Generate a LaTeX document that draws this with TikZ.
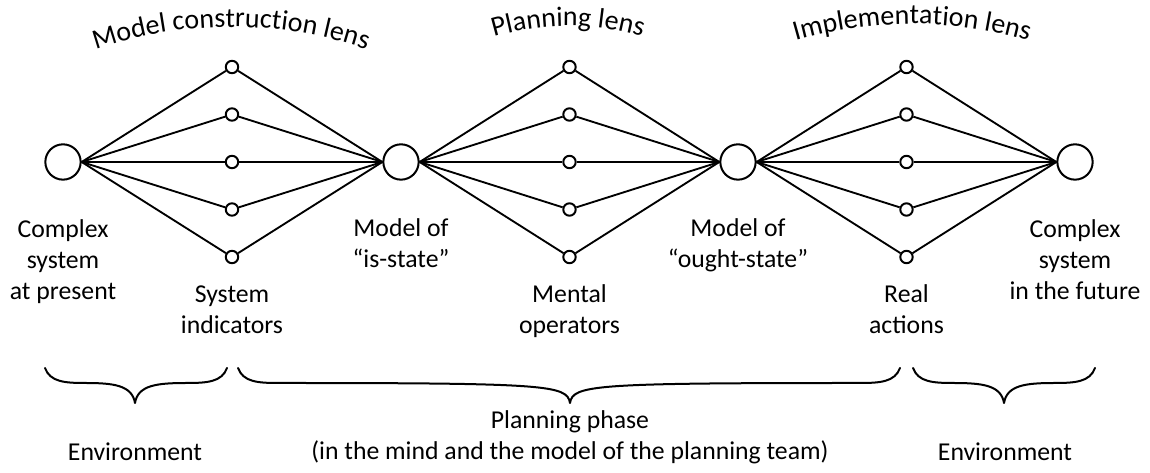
\documentclass[tikz,border=0pt]{standalone}
\usepackage{fontspec}
\setmainfont{Carlito}
\usetikzlibrary{decorations.text}
\newcommand\lblfont{\fontsize{19.3}{23.6}\selectfont}
\newcommand\lensfont{\fontsize{21}{24}\selectfont}
\newcommand\drawbrace[3]{%
  \draw[bracestyle] (#1,105) .. controls ({#1+5},91) and ({#1+20},90) .. ({#1+40},90)
    .. controls ({#2-22},90) and ({#2-3},88) .. (#2,70)
    .. controls ({#2+3},88) and ({#2+22},90) .. ({#3-40},90)
    .. controls ({#3-20},90) and ({#3-5},91) .. (#3,105);}
\begin{document}
\begin{tikzpicture}[x=0.75pt,y=0.75pt,
  big/.style={circle,draw,line width=1.5pt,minimum size=26.5pt,inner sep=0pt},
  small/.style={circle,draw,line width=1.5pt,minimum size=9.3pt,inner sep=0pt},
  conn/.style={line width=1.4pt},
  lbl/.style={font=\lblfont,align=center,anchor=base,inner sep=0pt},
  bracestyle/.style={line width=1.5pt,line cap=round,line join=round},
  lens/.style={decorate,decoration={text along path,text align=center,text={|\lensfont|#1}}}]
\useasboundingbox (0,0) rectangle (1150,473);

% big circles
\node[big] (B1) at (63,311) {};
\node[big] (B2) at (401,311) {};
\node[big] (B3) at (738,311) {};
\node[big] (B4) at (1075,311) {};

% small circles and connectors
\foreach \g/\x/\l/\r in {a/232/B1/B2, b/569.5/B2/B3, c/906.5/B3/B4}{
  \foreach \i/\y in {1/406,2/358.5,3/311,4/263.5,5/216}{
    \node[small] (\g\i) at (\x,\y) {};
    \draw[conn] (\l.east) -- (\g\i);
    \draw[conn] (\g\i) -- (\r.west);
  }
}

% lens titles
\path[lens={Model construction lens}] ([shift={(115:420)}]231,26) arc[start angle=115,end angle=65,radius=420];
\path[lens={Planning lens}] ([shift={(125:260)}]568,187) arc[start angle=125,end angle=55,radius=260];
\path[lens={Implementation lens}] ([shift={(115:420)}]912,29) arc[start angle=115,end angle=65,radius=420];

% labels (anchor = baseline of last line)
\node[lbl] (t1) at (63,173) {Complex\\system\\at present};
\node[lbl] (t2) at (232,139) {System\\indicators};
\node[lbl] (t3) at (401,205) {Model of\\“is-state”};
\node[lbl] (t4) at (569.5,139) {Mental\\operators};
\node[lbl] (t5) at (738,205) {Model of\\“ought-state”};
\node[lbl] (t6) at (906.5,139) {Real\\actions};
\node[lbl] (t7) at (1075,173) {Complex\\system\\in the future};

% braces
\drawbrace{45}{135}{227}
\drawbrace{238}{570}{900}
\drawbrace{913}{1004}{1095}

% bottom labels
\node[lbl] (e1) at (135,12) {Environment};
\node[lbl] (p1) at (570,13) {Planning phase\\(in the mind and the model of the planning team)};
\node[lbl] (e2) at (1005,12) {Environment};
\end{tikzpicture}
\end{document}
